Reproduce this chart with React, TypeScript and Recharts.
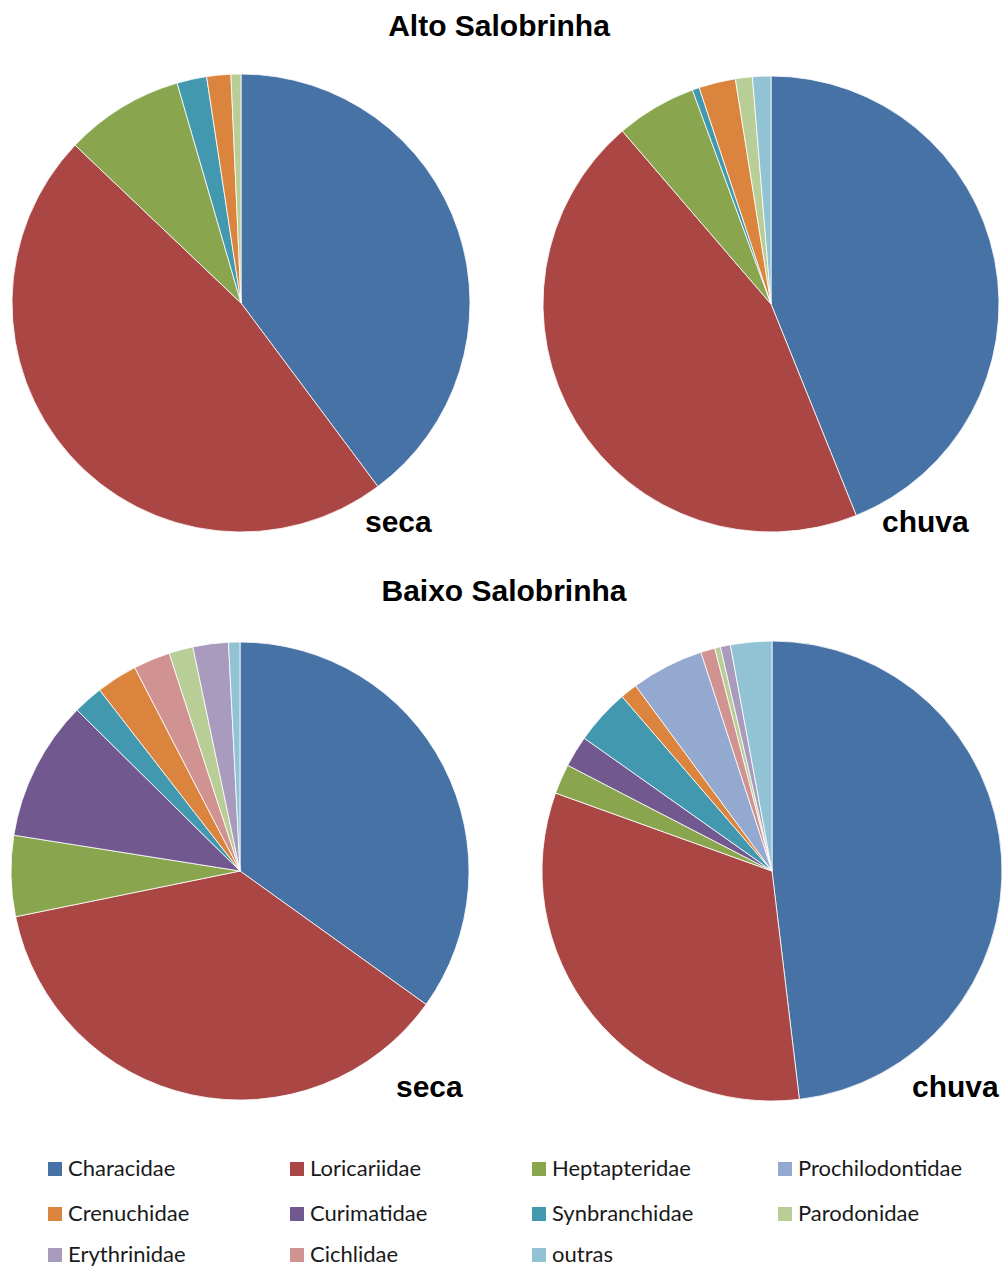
import { PieChart, Pie, Cell } from 'recharts';

// clockwise slice order used in every pie
const sliceOrder = [
  'Characidae', 'Loricariidae', 'Heptapteridae', 'Curimatidae', 'Synbranchidae',
  'Crenuchidae', 'Prochilodontidae', 'Cichlidae', 'Parodonidae', 'Erythrinidae', 'outras',
];

// legend order (row by row)
const legendOrder = [
  'Characidae', 'Loricariidae', 'Heptapteridae', 'Prochilodontidae',
  'Crenuchidae', 'Curimatidae', 'Synbranchidae', 'Parodonidae',
  'Erythrinidae', 'Cichlidae', 'outras',
];

const colors: Record<string, string> = {
  Characidae: '#4672A6',
  Loricariidae: '#AA4644',
  Heptapteridae: '#89A54E',
  Curimatidae: '#71588F',
  Synbranchidae: '#4198AF',
  Crenuchidae: '#DB843D',
  Prochilodontidae: '#93A9CF',
  Cichlidae: '#D19392',
  Parodonidae: '#B9CD96',
  Erythrinidae: '#A99BBD',
  outras: '#92C3D4',
};

// % per family, in sliceOrder
const altoSeca = [39.8, 47.3, 8.4, 0, 2.1, 1.7, 0, 0, 0.7, 0, 0];
const altoChuva = [43.9, 44.8, 5.7, 0, 0.5, 2.6, 0, 0, 1.2, 0, 1.3];
const baixoSeca = [34.9, 36.9, 5.7, 9.9, 2.1, 2.9, 0, 2.6, 1.7, 2.5, 0.8];
const baixoChuva = [48.1, 32.4, 2.1, 2.2, 3.9, 1.2, 5.1, 1.0, 0.4, 0.7, 2.9];

const toRows = (vals: number[]) =>
  sliceOrder.map((name, i) => ({ name, value: vals[i] })).filter((r) => r.value > 0);

const pies = [
  { key: 'as', data: toRows(altoSeca), cx: 241, cy: 303, r: 229 },
  { key: 'ac', data: toRows(altoChuva), cx: 771, cy: 304, r: 228 },
  { key: 'bs', data: toRows(baixoSeca), cx: 240, cy: 871, r: 229 },
  { key: 'bc', data: toRows(baixoChuva), cx: 772, cy: 871, r: 230 },
];

const bold = { fontFamily: 'Arial, "Liberation Sans", sans-serif', fontWeight: 700, fill: '#000' };

export default function App() {
  const colX = [48, 290, 532, 778];
  const rowY = [1169, 1214, 1255];
  return (
    <div style={{ position: 'absolute', left: 0, top: 0, width: 1004, height: 1269, background: '#fff' }}>
      <PieChart width={1004} height={1269} margin={{ top: 0, right: 0, bottom: 0, left: 0 }}>
        {pies.map((p) => (
          <Pie
            key={p.key}
            data={p.data}
            dataKey="value"
            nameKey="name"
            cx={p.cx}
            cy={p.cy}
            outerRadius={p.r}
            startAngle={90}
            endAngle={-270}
            stroke="#ffffff"
            strokeWidth={0.8}
            isAnimationActive={false}
          >
            {p.data.map((d) => (
              <Cell key={d.name} fill={colors[d.name]} />
            ))}
          </Pie>
        ))}
      </PieChart>
      <svg width={1004} height={1269} style={{ position: 'absolute', left: 0, top: 0, pointerEvents: 'none' }}>
        <text x={499} y={36} textAnchor="middle" fontSize={30} style={bold}>Alto Salobrinha</text>
        <text x={504} y={601} textAnchor="middle" fontSize={30} style={bold}>Baixo Salobrinha</text>
        <text x={365} y={532} fontSize={30} style={bold}>seca</text>
        <text x={882} y={532} fontSize={30} style={bold}>chuva</text>
        <text x={396} y={1097} fontSize={30} style={bold}>seca</text>
        <text x={912} y={1097} fontSize={30} style={bold}>chuva</text>
        {legendOrder.map((name, i) => {
          const x = colX[i % 4];
          const y = rowY[Math.floor(i / 4)];
          return (
            <g key={name}>
              <rect x={x} y={y - 7} width={14} height={14} fill={colors[name]} />
              <text x={x + 20} y={y + 7} fontSize={22} fill="#1a1a1a" style={{ fontFamily: 'Lato, sans-serif' }}>
                {name}
              </text>
            </g>
          );
        })}
      </svg>
    </div>
  );
}
